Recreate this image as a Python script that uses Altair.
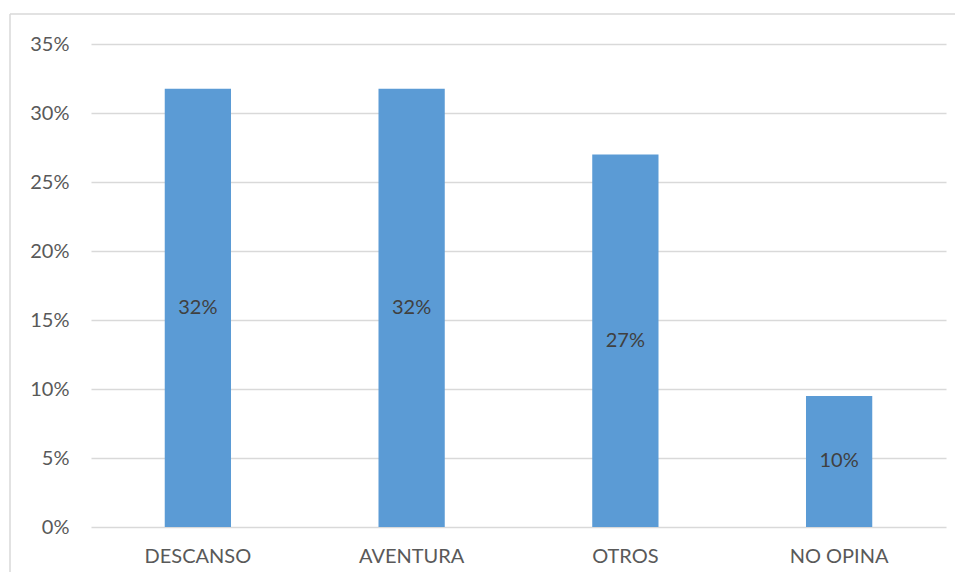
import altair as alt
import pandas as pd

categories = ["DESCANSO", "AVENTURA", "OTROS", "NO OPINA"]
values = [0.3175, 0.3175, 0.27, 0.095]

df = pd.DataFrame({"cat": categories, "val": values})
FONT = "Lato"
FS = 20

xenc = alt.X("cat:N", sort=categories, title=None,
             scale=alt.Scale(paddingInner=0.69, paddingOuter=0.345),
             axis=alt.Axis(labelAngle=0, labelFontSize=FS, labelColor="#595959",
                           labelFont=FONT, domain=False, ticks=False, labelPadding=19))

bars = alt.Chart(df).mark_bar(color="#5B9BD5").encode(
    x=xenc,
    y=alt.Y("val:Q", title=None,
            scale=alt.Scale(domain=[0, 0.35], nice=False),
            axis=alt.Axis(format=".0%", values=[0, 0.05, 0.1, 0.15, 0.2, 0.25, 0.3, 0.35],
                          labelFontSize=FS, labelColor="#595959", labelFont=FONT,
                          domain=False, ticks=False, labelPadding=22,
                          gridColor="#d9d9d9", gridWidth=1.5)),
)

labels = alt.Chart(df).transform_calculate(mid="datum.val / 2").mark_text(
    fontSize=FS, color="#404040", font=FONT
).encode(
    x=alt.X("cat:N", sort=categories),
    y=alt.Y("mid:Q"),
    text=alt.Text("val:Q", format=".0%"),
)

frame_df = pd.DataFrame({"k": [0]})
top = alt.Chart(frame_df).mark_rule(color="#d9d9d9", strokeWidth=1.5).encode(
    x=alt.value(-81), x2=alt.value(880), y=alt.value(-30))
left = alt.Chart(frame_df).mark_rule(color="#d9d9d9", strokeWidth=1.5).encode(
    x=alt.value(-81), y=alt.value(-30), y2=alt.value(560))

chart = alt.layer(bars, labels, top, left).properties(
    width=855, height=483,
    autosize=alt.AutoSizeParams(type="none"),
    padding={"left": 83, "top": 36, "right": 9, "bottom": 45},
    background="white",
).configure_view(stroke=None)

chart.save("out.html", embed_options={"renderer": "svg", "actions": False})
